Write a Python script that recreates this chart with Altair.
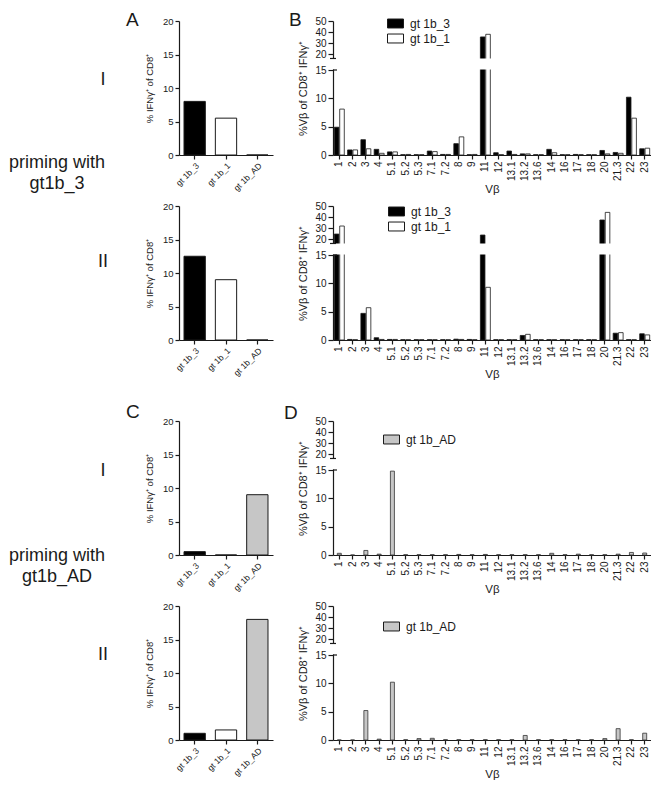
import altair as alt
import pandas as pd

FONT = "Liberation Sans"
INK = "#1a1a1a"
H = 134          # plot height of every panel
WA = 94          # width of A/C panels
WB = 318         # width of B/D panels

# ---------------- data ----------------
series_small = ["gt 1b_3", "gt 1b_1", "gt 1b_AD"]
fills_small = ["#000000", "#ffffff", "#c6c6c6"]

a_I = [8.0, 5.5, 0.0]
a_II = [12.5, 9.0, 0.0]
c_I = [0.5, 0.0, 9.0]
c_II = [1.0, 1.5, 18.0]

vb = ["1", "2", "3", "4", "5.1", "5.2", "5.3", "7.1", "7.2", "8", "9", "11", "12",
      "13.1", "13.2", "13.6", "14", "16", "17", "18", "20", "21.3", "22", "23"]

b_I_gt3 = [4.9, 0.9, 2.7, 1.0, 0.55, 0.05, 0.05, 0.7, 0.1, 2.0, 0.05, 35.5, 0.4,
           0.7, 0.2, 0.05, 1.0, 0.05, 0.1, 0.05, 0.8, 0.45, 10.2, 1.1]
b_I_gt1 = [8.1, 0.9, 1.1, 0.3, 0.55, 0.1, 0.05, 0.6, 0.1, 3.2, 0.1, 37.9, 0.05,
           0.1, 0.2, 0.05, 0.4, 0.05, 0.05, 0.05, 0.2, 0.3, 6.5, 1.2]
b_II_gt3 = [24.5, 0.1, 4.7, 0.4, 0.1, 0.05, 0.05, 0.05, 0.05, 0.15, 0.1, 23.6, 0.05,
            0.05, 0.8, 0.05, 0.05, 0.05, 0.05, 0.05, 37.3, 1.2, 0.05, 1.1]
b_II_gt1 = [31.8, 0.05, 5.7, 0.1, 0.1, 0.05, 0.05, 0.05, 0.05, 0.1, 0.05, 9.3, 0.05,
            0.05, 1.0, 0.05, 0.05, 0.05, 0.05, 0.05, 44.2, 1.3, 0.05, 0.9]
d_I_ad = [0.3, 0.0, 0.8, 0.15, 14.8, 0.05, 0.05, 0.05, 0.05, 0.1, 0.05, 0.1, 0.05,
          0.05, 0.05, 0.05, 0.3, 0.05, 0.15, 0.05, 0.05, 0.15, 0.45, 0.35]
d_II_ad = [0.0, 0.0, 5.2, 0.15, 10.2, 0.05, 0.25, 0.3, 0.05, 0.05, 0.05, 0.05, 0.05,
           0.05, 0.8, 0.05, 0.05, 0.05, 0.05, 0.05, 0.25, 2.0, 0.05, 1.2]

y_ticks_small = [0, 5, 10, 15, 20]
y_ticks_big = [0, 5, 10, 15, 20, 30, 40, 50]
break_lo, break_hi = 15.16, 18.6


def text_layer(txt, x, y, size, align="left", baseline="alphabetic", line_height=None):
    kw = dict(fontSize=size, font=FONT, color=INK, align=align, baseline=baseline)
    if line_height:
        kw.update(lineBreak="\n", lineHeight=line_height)
    return alt.Chart(pd.DataFrame({"t": [txt]})).mark_text(**kw).encode(
        text="t:N", x=alt.value(x), y=alt.value(y))


def small_panel(vals, letter=None, letter_y=5):
    df = pd.DataFrame({"s": series_small, "v": vals})
    bars = alt.Chart(df).mark_bar(stroke=INK, strokeWidth=1).encode(
        x=alt.X("s:N", sort=series_small,
                scale=alt.Scale(paddingInner=0.32, paddingOuter=0.16),
                axis=alt.Axis(title=None, labelAngle=-45, labelFontSize=8.5, tickSize=4,
                              labelPadding=2, labelOverlap=False)),
        y=alt.Y("v:Q", scale=alt.Scale(domain=[0, 20], nice=False),
                axis=alt.Axis(values=y_ticks_small, title="% IFNγ⁺ of CD8⁺", titleFontSize=9.5,
                              titlePadding=8, labelFontSize=9.5, tickSize=4, labelPadding=2,
                              labelOverlap=False)),
        fill=alt.Fill("s:N", scale=alt.Scale(domain=series_small, range=fills_small), legend=None),
    )
    layers = [bars]
    if letter:
        layers.append(text_layer(letter, -53, letter_y, 19))
    return alt.layer(*layers).properties(width=WA, height=H)


def big_panel(series, values, colors, legend_x, legend_y, letter=None, letter_x=-44, letter_y=5):
    rows = []
    for s, vals in zip(series, values):
        for c, v in zip(vb, vals):
            rows.append({"vb": c, "s": s, "v": v})
    df = pd.DataFrame(rows)
    yscale = alt.Scale(domain=[0, 15, 20, 50], range=[H, 49, 33, 0], nice=False, zero=False)
    yaxis = alt.Axis(values=y_ticks_big, title="%Vβ of CD8⁺ IFNγ⁺", titleFontSize=11,
                     titlePadding=6, labelFontSize=10, tickSize=5, labelPadding=2,
                     labelOverlap=False)
    enc = dict(
        x=alt.X("vb:N", sort=vb, scale=alt.Scale(paddingInner=0.25, paddingOuter=0.1),
                axis=alt.Axis(title="Vβ", titleFontSize=11.5, titlePadding=3, labelAngle=-90,
                              labelFontSize=10, tickSize=4, labelPadding=2, labelOverlap=False)),
        y=alt.Y("v:Q", scale=yscale, axis=yaxis),
        fill=alt.Fill("s:N", scale=alt.Scale(domain=series, range=colors),
                      legend=alt.Legend(orient="none", legendX=legend_x, legendY=legend_y,
                                        direction="vertical", title=None,
                                        symbolType="M-1,-0.56H1V0.56H-1Z", symbolSize=256,
                                        symbolStrokeColor=INK, symbolStrokeWidth=1,
                                        labelFontSize=12, labelFont=FONT, labelColor=INK,
                                        labelOffset=6, rowPadding=-3, padding=0)),
    )
    if len(series) > 1:
        enc["xOffset"] = alt.XOffset("s:N", sort=series, scale=alt.Scale(paddingInner=0.15))
        bars = alt.Chart(df).mark_bar(stroke=INK, strokeWidth=0.8).encode(**enc)
    else:
        bars = alt.Chart(df).mark_bar(stroke="#333333", strokeWidth=0.8, size=4).encode(**enc)

    mask = alt.Chart(pd.DataFrame({"v": [break_lo], "hi": [break_hi]})).mark_rect(
        fill="white").encode(
        y=alt.Y("v:Q", scale=yscale, axis=yaxis), y2="hi:Q",
        x=alt.value(-4), x2=alt.value(WB))
    cap_top = alt.Chart(pd.DataFrame({"v": [break_hi]})).mark_rule(
        color=INK, strokeWidth=1.2).encode(
        y=alt.Y("v:Q", scale=yscale, axis=yaxis), x=alt.value(-3), x2=alt.value(3))
    cap_bot = alt.Chart(pd.DataFrame({"v": [15.0]})).mark_rule(
        color=INK, strokeWidth=1.2).encode(
        y=alt.Y("v:Q", scale=yscale, axis=yaxis), x=alt.value(0), x2=alt.value(4))
    layers = [bars, mask, cap_top, cap_bot]
    if letter:
        layers.append(text_layer(letter, letter_x, letter_y, 19))
    return alt.layer(*layers).properties(width=WB, height=H)


def label_panel(roman, roman_y, prim=None, prim_y=None, h=H):
    layers = [text_layer(roman, 94, roman_y, 18, align="center", baseline="middle")]
    if prim:
        layers.append(text_layer(prim, 48, prim_y, 18, align="center", line_height=20.5))
    return alt.layer(*layers).properties(width=110, height=h)


lab1 = label_panel("I", 59, "priming with\ngt1b_3", 147)
lab2 = label_panel("II", 56, h=H + 30)
lab3 = label_panel("I", 50, "priming with\ngt1b_AD", 140)
lab4 = label_panel("II", 49)

pA1 = small_panel(a_I, "A", 5)
pA2 = small_panel(a_II)
pC1 = small_panel(c_I, "C", -3)
pC2 = small_panel(c_II)

pB1 = big_panel(["gt 1b_3", "gt 1b_1"], [b_I_gt3, b_I_gt1], ["#000000", "#ffffff"],
                54, -6, "B", -44, 5)
pB2 = big_panel(["gt 1b_3", "gt 1b_1"], [b_II_gt3, b_II_gt1], ["#000000", "#ffffff"],
                55, -3)
pD1 = big_panel(["gt 1b_AD"], [d_I_ad], ["#c6c6c6"], 50, 10, "D", -49, -2)
pD2 = big_panel(["gt 1b_AD"], [d_II_ad], ["#c6c6c6"], 50, 12)

chart = alt.concat(
    lab1, pA1, pB1,
    lab2, pA2, pB2,
    lab3, pC1, pD1,
    lab4, pC2, pD2,
    columns=3, spacing={"row": 51, "column": 60}, bounds="flush", align="each",
    padding={"top": 3, "left": 0, "right": 0, "bottom": 0},
).resolve_scale(fill="independent", xOffset="independent").resolve_legend(
    fill="independent"
).configure_view(stroke=None).configure_axis(
    domainColor=INK, tickColor=INK, labelColor=INK, titleColor=INK,
    labelFont=FONT, titleFont=FONT, domainWidth=1.2, tickWidth=1.2, grid=False,
    titleFontWeight="normal"
)

chart.save("out.html", embed_options={"renderer": "svg", "actions": False})
